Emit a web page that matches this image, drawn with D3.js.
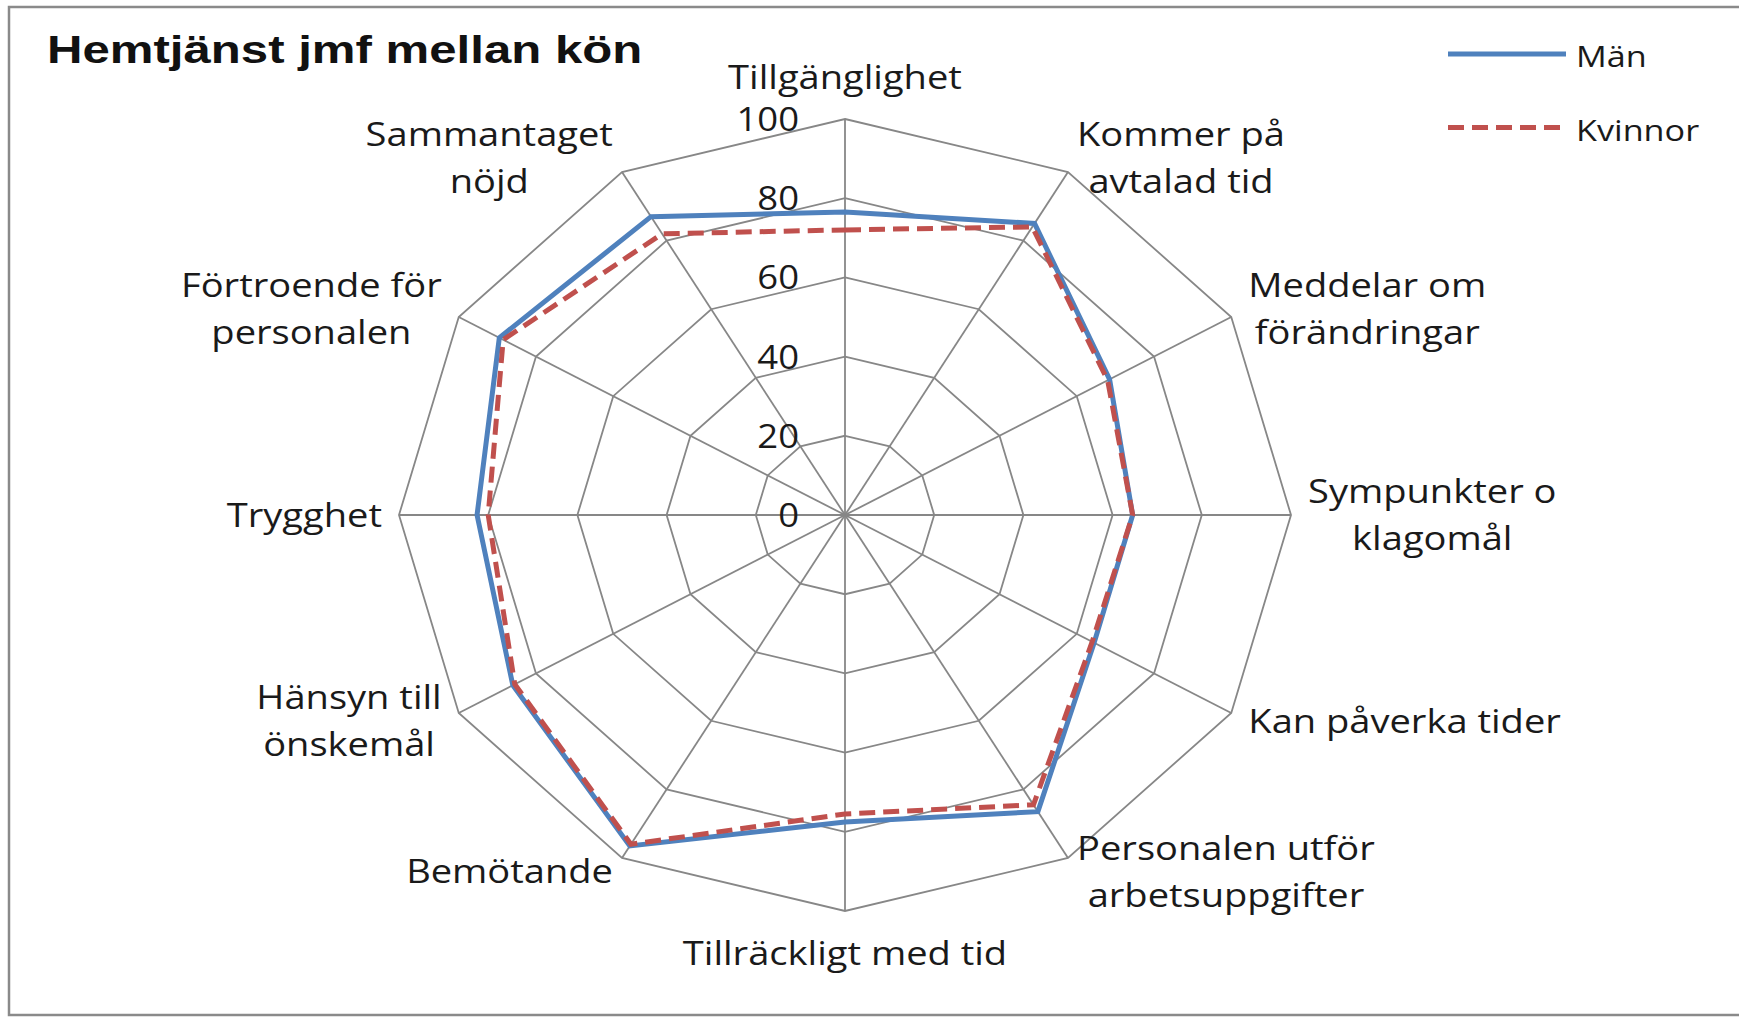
<!DOCTYPE html>
<html>
<head>
<meta charset="utf-8">
<script src="https://cdn.jsdelivr.net/npm/d3@7/dist/d3.min.js"></script>
<style>
  html, body { margin: 0; padding: 0; background: #fff; }
  svg { display: block; }
</style>
</head>
<body>
<script>
// categories (line breaks as in the chart), starting at top, clockwise
var categories = [
  "Tillgänglighet",
  "Kommer på\navtalad tid",
  "Meddelar om\nförändringar",
  "Sympunkter o\nklagomål",
  "Kan påverka tider",
  "Personalen utför\narbetsuppgifter",
  "Tillräckligt med tid",
  "Bemötande",
  "Hänsyn till\nönskemål",
  "Trygghet",
  "Förtroende för\npersonalen",
  "Sammantaget\nnöjd"
];
var man     = [76.5, 85, 68.5, 64.5, 64.5, 86.5, 77.5, 96.5, 86, 82.5, 89.5, 87];
var kvinnor = [72,   84, 68,   64.5, 64,   84.5, 75.5, 96,   85.5, 80, 88.5, 82];
var ticks = [0, 20, 40, 60, 80, 100];
var seriesNames = ["Män", "Kvinnor"];

var W = 1739, H = 1021;
var cx = 845, cy = 515;
var sx = 1.14;  // the picture is stretched sideways
var lsx = 1.19; // category labels a bit wider still

var svg = d3.select('body').append('svg')
  .attr('width', W)
  .attr('height', H);

// frame
svg.append('rect')
  .attr('x', 9).attr('y', 7)
  .attr('width', 1760).attr('height', 1008)
  .attr('fill', '#fff')
  .attr('stroke', '#8a8a8a')
  .attr('stroke-width', 2.5);

// radial scales (different in x and y)
var rx = d3.scaleLinear().domain([0, 100]).range([0, 446]);
var ry = d3.scaleLinear().domain([0, 100]).range([0, 396]);
var angle = d3.scaleLinear().domain([0, categories.length]).range([0, 2 * Math.PI]);

function pt(v, i) {
  var a = angle(i);
  return [cx + rx(v) * Math.sin(a), cy - ry(v) * Math.cos(a)];
}

var line = d3.line().curve(d3.curveLinearClosed);

// grid rings
svg.selectAll('path.ring')
  .data(ticks.slice(1))
  .enter()
  .append('path')
  .attr('class', 'ring')
  .attr('d', function(t){
    return line(categories.map(function(c, i){ return pt(t, i); }));
  })
  .attr('fill', 'none')
  .attr('stroke', '#878787')
  .attr('stroke-width', 1.8);

// spokes
svg.selectAll('line.spoke')
  .data(categories)
  .enter()
  .append('line')
  .attr('class', 'spoke')
  .attr('x1', cx).attr('y1', cy)
  .attr('x2', function(d, i){ return pt(100, i)[0]; })
  .attr('y2', function(d, i){ return pt(100, i)[1]; })
  .attr('stroke', '#878787')
  .attr('stroke-width', 1.8);

// tick labels
svg.selectAll('text.tick')
  .data(ticks)
  .enter()
  .append('text')
  .attr('class', 'tick')
  .attr('transform', function(t){
    return 'translate(' + (cx - 46) + ',' + (cy - ry(t) + 12) + ') scale(' + sx + ',1)';
  })
  .attr('text-anchor', 'end')
  .attr('font-family', 'Open Sans')
  .attr('font-size', 32)
  .attr('fill', '#1a1a1a')
  .text(function(t){ return t; });

// series
var series = [
  {name: seriesNames[0], values: man, color: '#4F81BD', dash: null},
  {name: seriesNames[1], values: kvinnor, color: '#C0504D', dash: '16,8'}
];

svg.selectAll('path.series')
  .data(series)
  .enter()
  .append('path')
  .attr('class', 'series')
  .attr('d', function(s){
    return line(s.values.map(function(v, i){ return pt(v, i); }));
  })
  .attr('fill', 'none')
  .attr('stroke', function(s){ return s.color; })
  .attr('stroke-width', 5)
  .attr('stroke-linejoin', 'miter')
  .attr('stroke-dasharray', function(s){ return s.dash; });

// category labels
var fs = 32, lh = 46.5;
var labels = svg.selectAll('g.lab')
  .data(categories)
  .enter()
  .append('g')
  .attr('class', 'lab');

labels.each(function(d, i){
  var g = d3.select(this);
  var lines = d.split('\n');
  var txt = g.append('text')
    .attr('text-anchor', 'middle')
    .attr('font-family', 'Open Sans')
    .attr('font-size', fs)
    .attr('fill', '#1a1a1a');
  txt.selectAll('tspan')
    .data(lines)
    .enter()
    .append('tspan')
    .attr('x', 0)
    .attr('y', function(l, k){ return k * lh; })
    .text(function(l){ return l; });
  var w = 0;
  txt.selectAll('tspan').each(function(){
    w = Math.max(w, this.getComputedTextLength());
  });
  w = w * lsx;
  var a = angle(i), s = Math.sin(a), c = Math.cos(a);
  var p = pt(100, i);
  var x, midY;
  if (Math.abs(s) < 0.01) {
    x = p[0];
    midY = p[1] - 42 * c;
  } else {
    var gap = Math.abs(c) > 0.8 ? 9 : 17;
    x = p[0] + (s > 0 ? 1 : -1) * (gap + w / 2);
    midY = p[1] - 16 * c;
  }
  var y0 = midY - (lines.length - 1) * lh / 2 + fs * 0.36;
  txt.attr('transform', 'translate(' + x + ',' + y0 + ') scale(' + lsx + ',1)');
});

// title
svg.append('text')
  .attr('transform', 'translate(47,63) scale(1.26,1)')
  .attr('font-family', 'Liberation Sans, Arial, sans-serif')
  .attr('font-weight', 'bold')
  .attr('font-size', 39)
  .attr('fill', '#111')
  .text('Hemtjänst jmf mellan kön');

// legend
var legend = svg.selectAll('g.legend')
  .data(series)
  .enter()
  .append('g')
  .attr('class', 'legend')
  .attr('transform', function(s, i){ return 'translate(1448,' + (54 + i * 73.5) + ')'; });

legend.append('line')
  .attr('x1', 0).attr('x2', 118)
  .attr('y1', 0).attr('y2', 0)
  .attr('stroke', function(s){ return s.color; })
  .attr('stroke-width', 5)
  .attr('stroke-dasharray', function(s){ return s.dash; });

legend.append('text')
  .attr('transform', 'translate(128,13) scale(' + sx + ',1)')
  .attr('font-family', 'Open Sans')
  .attr('font-size', 30)
  .attr('fill', '#1a1a1a')
  .text(function(s){ return s.name; });
</script>
</body>
</html>
